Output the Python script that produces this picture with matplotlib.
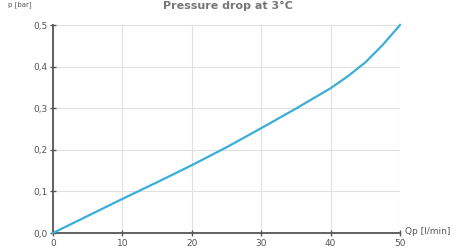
import matplotlib
matplotlib.use("Agg")
import matplotlib.pyplot as plt
from matplotlib.ticker import FuncFormatter

flow = [0, 5, 10, 15, 20, 25, 30, 35, 40, 42.5, 45, 47.5, 50]
pressure = [0, 0.041, 0.082, 0.122, 0.163, 0.206, 0.252, 0.299, 0.348, 0.377, 0.410, 0.452, 0.5]
xticks = [0, 10, 20, 30, 40, 50]
yticks = [0.0, 0.1, 0.2, 0.3, 0.4, 0.5]
title = "Pressure drop at 3°C"
xlabel = "Qp [l/min]"
ylabel = "p [bar]"

fig = plt.figure(figsize=(4.62, 2.5), dpi=100)
ax = fig.add_axes([53/462, 1-233/250, (400-53)/462, (233-25)/250])
ax.set_xlim(0, 50)
ax.set_ylim(0, 0.5)
ax.set_xticks(xticks)
ax.set_yticks(yticks)
ax.yaxis.set_major_formatter(FuncFormatter(lambda v, p: f"{v:.1f}".replace(".", ",")))
ax.grid(True, color="#e0e0e0", linewidth=0.8)
ax.set_axisbelow(True)
for s in ["top", "right"]:
    ax.spines[s].set_visible(False)
for s in ["left", "bottom"]:
    ax.spines[s].set_color("#555555")
    ax.spines[s].set_linewidth(1.3)
ax.tick_params(direction="inout", length=4, width=1, color="#555555",
               labelsize=6.5, labelcolor="#555555", pad=2)
ax.plot(flow, pressure, color="#3aaed8", linewidth=1.6, clip_on=False, zorder=3)
fig.text(405/462, 1-232/250, xlabel, fontsize=6.5, color="#555555", va="center", ha="left")
fig.text(8/462, 1-1/250, ylabel, fontsize=5, color="#555555", va="top", ha="left")
fig.text(228/462, 1-0.5/250, title, fontsize=8, fontweight="bold", color="#777777", va="top", ha="center")
fig.savefig("out.png", dpi=100)
